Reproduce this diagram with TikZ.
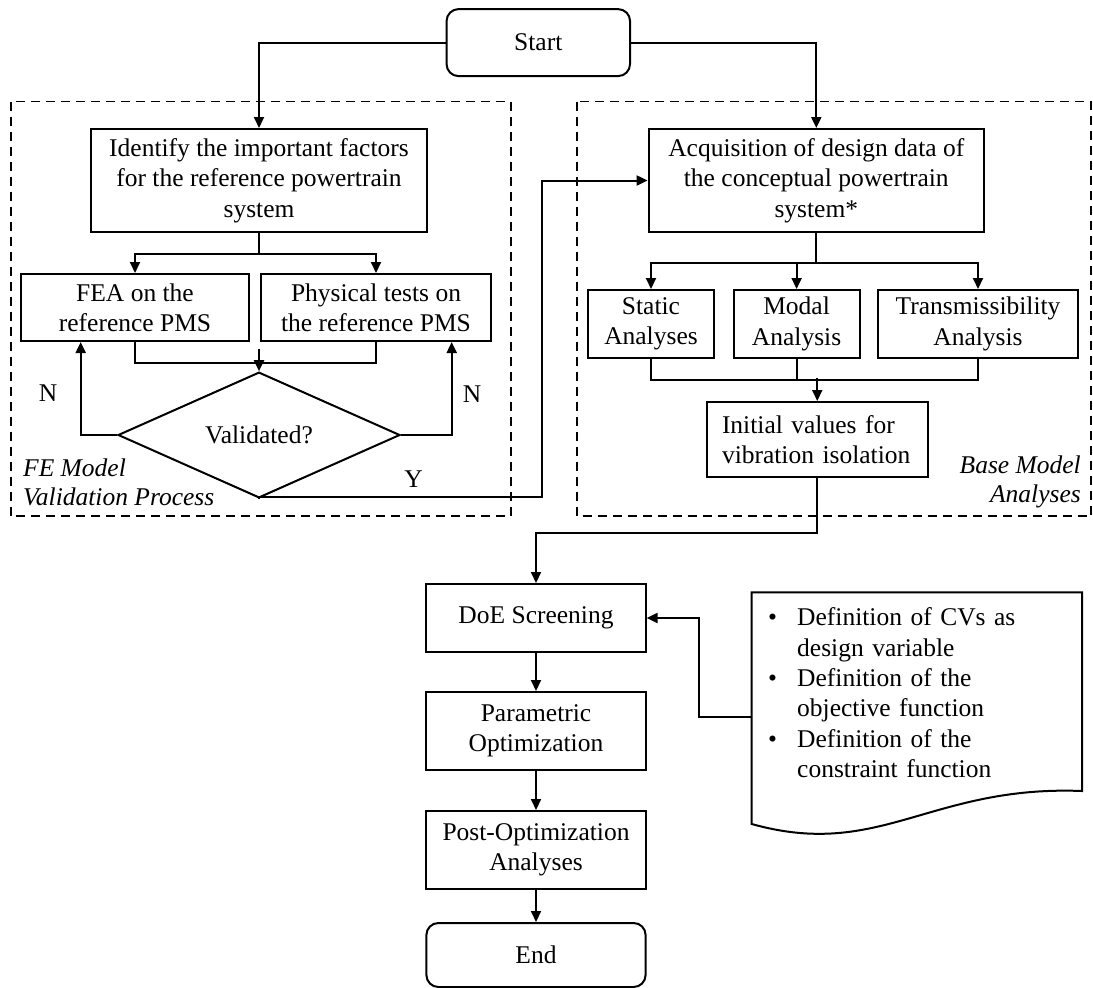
\documentclass[tikz,border=0pt]{standalone}
\usepackage{fontspec}
\setmainfont{Liberation Serif}
\usetikzlibrary{arrows.meta,shapes.geometric,calc}
\begin{document}
\begin{tikzpicture}[x=1pt,y=-1pt,
  every node/.style={font=\fontsize{25.5}{30.4}\selectfont},
  proc/.style={draw, line width=2pt, inner sep=0pt, align=center},
  term/.style={proc, rounded corners=12pt},
  decision/.style={proc, shape=diamond},
  ln/.style={line width=2pt},
  arr/.style={line width=2pt, -{Triangle[length=11pt,width=10pt]}},
  group/.style={draw, line width=1.9pt, dash pattern=on 9pt off 6pt},
  lbl/.style={inner sep=0pt}
]
\useasboundingbox (0,0) rectangle (1093,988);

% process groups
\draw[group] (10.7,101.5) rectangle (510.7,516);
\draw[group] (577,101.5) rectangle (1091,516);
\node[lbl, anchor=west, align=left, font=\fontsize{25.5}{29.5}\selectfont\itshape] (grpA) at (23,482.5) {FE Model\\Validation Process};
\node[lbl, anchor=east, align=right, font=\fontsize{25.5}{29.5}\selectfont\itshape] (grpB) at (1081,482) {Base Model\\Analyses};

% terminals
\node[term, minimum width=183.5pt, minimum height=67pt] (start) at (538.3,42.6) {Start};
\node[term, minimum width=219.2pt, minimum height=64pt] (end) at (536,955) {End};

% validation branch
\node[proc, minimum width=336pt, minimum height=103pt] (ident) at (259,180.5)
  {Identify the important factors\\for the reference powertrain\\system};
\node[proc, minimum width=228pt, minimum height=67pt] (fea) at (135,307.5)
  {FEA on the\\reference PMS};
\node[proc, minimum width=230pt, minimum height=67pt] (phys) at (376,307.5)
  {Physical tests on\\the reference PMS};
\node[decision, minimum width=282pt, minimum height=102pt] (valid) at (259,435) {Validated?};

% base model branch
\node[proc, minimum width=335.4pt, minimum height=103pt] (acq) at (816.3,180.5)
  {Acquisition of design data of\\the conceptual powertrain\\system*};
\node[proc, minimum width=126pt, minimum height=68pt] (static) at (651,324) {Static\\Analyses};
\node[proc, minimum width=126pt, minimum height=68pt] (modal) at (796.6,324) {Modal\\Analysis};
\node[proc, minimum width=200pt, minimum height=68pt] (trans) at (978,324) {Transmissibility\\Analysis};
\node[proc, align=left, inner xsep=15.5pt, text width=190.5pt, minimum height=75pt] (init) at (817.25,439.5)
  {Initial values for\\vibration isolation};

% optimisation chain
\node[proc, minimum width=219.2pt, minimum height=68pt] (doe) at (536,618) {DoE Screening};
\node[proc, minimum width=219.2pt, minimum height=78pt] (param) at (536,731) {Parametric\\Optimization};
\node[proc, minimum width=219.2pt, minimum height=78pt] (post) at (536,850) {Post-Optimization\\Analyses};

% document with the design definitions
\draw[ln] (751.7,824) -- (751.7,592.3) -- (1082,592.3) -- (1082,791)
  .. controls (930,785) and (880,860) .. (751.7,824) -- cycle;
\coordinate (docin) at (751.7,717);
\node[lbl, anchor=north west, text width=310pt, align=left] (doctext) at (768,607.6)
  {\makebox[29pt][l]{\textbullet}Definition of CVs as\\
   \hspace*{29pt}design variable\\
   \makebox[29pt][l]{\textbullet}Definition of the\\
   \hspace*{29pt}objective function\\
   \makebox[29pt][l]{\textbullet}Definition of the\\
   \hspace*{29pt}constraint function};

% labels on the decision exits
\node[lbl] (nleft) at (48,393) {N};
\node[lbl] (nright) at (472,394) {N};
\node[lbl] (yes) at (413.6,479) {Y};

% connectors
\draw[arr] (start.west) -| (ident.north);
\draw[arr] (start.east) -| (acq.north);

\draw[ln] (ident.south) -- ++(0,21) coordinate (splitA);
\draw[arr] (splitA) -| (fea.north);
\draw[arr] (splitA) -| (phys.north);
\draw[ln] (fea.south) -- ++(0,21) -| (phys.south);
\draw[arr] ($(valid.north)+(0,-22)$) -- (valid.north);
\draw[arr] (valid.west) -| ([xshift=60.7pt]fea.south west);
\draw[arr] (valid.east) -| ([xshift=-40.3pt]phys.south east);

\coordinate (yturn) at (542,496.7);
\draw[arr] (valid.south) |- (yturn) |- (acq.west);

\draw[ln] (acq.south) -- ++(0,30) coordinate (splitB);
\draw[arr] (splitB) -| (static.north);
\draw[arr] (splitB) -| (modal.north);
\draw[arr] (splitB) -| (trans.north);
\draw[ln] (static.south) -- ++(0,21) -| (trans.south);
\draw[ln] (modal.south) -- ++(0,21);
\draw[arr] ($(init.north)+(0,-23)$) -- (init.north);

\draw[arr] (init.south) -- ++(0,55) -| (doe.north);
\draw[arr] (doe) -- (param);
\draw[arr] (param) -- (post);
\draw[arr] (post) -- (end);
\draw[arr] (docin) -- ++(-53,0) |- (doe.east);
\end{tikzpicture}
\end{document}
